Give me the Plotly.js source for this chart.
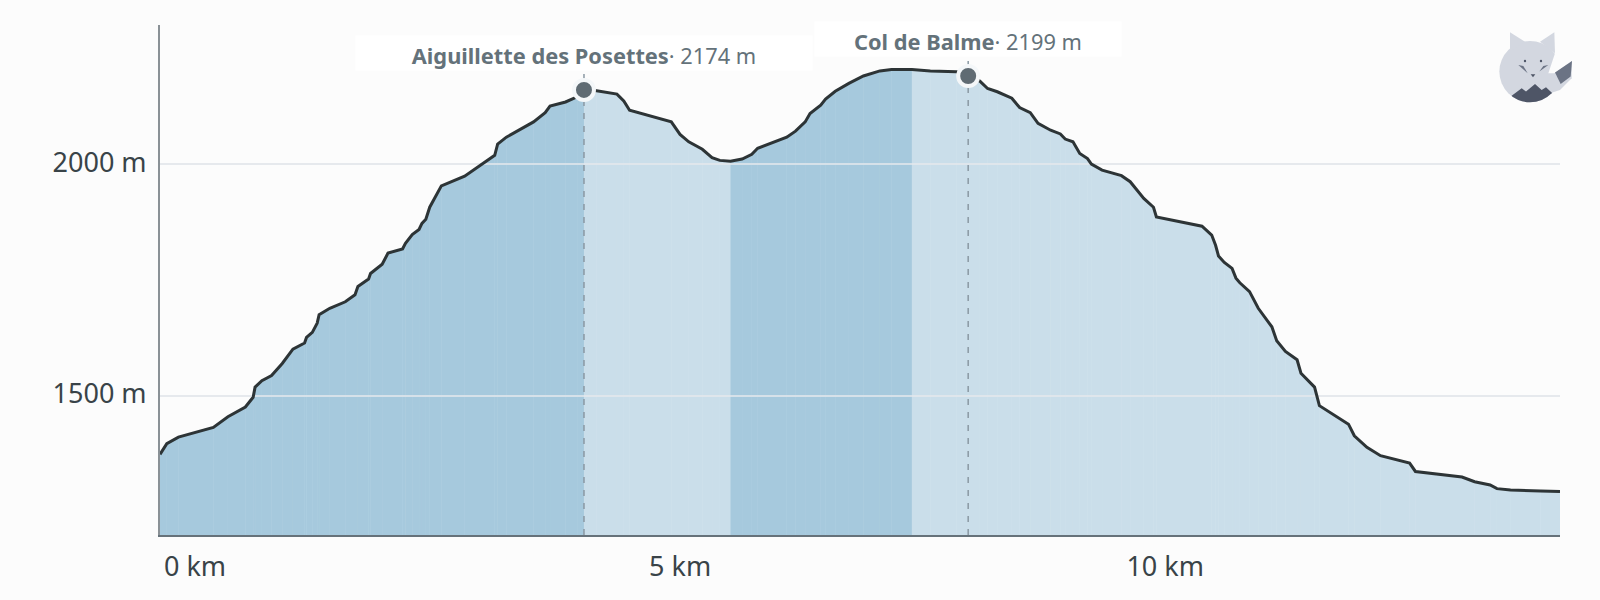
<!DOCTYPE html>
<html>
<head>
<meta charset="utf-8">
<script src="https://cdn.plot.ly/plotly-3.0.1.min.js"></script>
<style>
  html, body { margin: 0; padding: 0; background: #fcfcfc; }
</style>
</head>
<body>
<div id="profile" style="width:1600px;height:600px"></div>
<script>
// elevation profile
const distKm = [0, 0.07, 0.19, 0.55, 0.70, 0.88, 0.96, 0.98, 1.05, 1.15, 1.26, 1.37, 1.49, 1.51, 1.57, 1.62, 1.64, 1.75, 1.91, 2.01,
  2.04, 2.15, 2.17, 2.29, 2.35, 2.50, 2.53, 2.60, 2.67, 2.70, 2.74, 2.78, 2.90, 3.14, 3.45, 3.48, 3.57, 3.85, 3.97, 4.02,
  4.18, 4.30, 4.37, 4.50, 4.71, 4.78, 4.84, 5.27, 5.36, 5.45, 5.59, 5.69, 5.77, 5.88, 6.00, 6.10, 6.16, 6.46, 6.55, 6.65,
  6.70, 6.81, 6.86, 6.96, 7.10, 7.25, 7.42, 7.54, 7.75, 7.94, 8.21, 8.33, 8.45, 8.53, 8.63, 8.78, 8.86, 8.97, 9.05, 9.18,
  9.28, 9.33, 9.41, 9.48, 9.56, 9.60, 9.71, 9.91, 10.00, 10.07, 10.14, 10.24, 10.27, 10.74, 10.84, 10.88, 10.91, 10.97, 11.05, 11.09,
  11.13, 11.23, 11.32, 11.46, 11.51, 11.60, 11.72, 11.76, 11.90, 11.95, 12.25, 12.31, 12.44, 12.58, 12.88, 12.94, 13.42, 13.55, 13.71, 13.78,
  13.92, 14.23, 14.43];
const elevM = [1374, 1397, 1411, 1432, 1455, 1476, 1497, 1519, 1533, 1544, 1570, 1601, 1614, 1626, 1637, 1657, 1675, 1689, 1703, 1718,
  1736, 1752, 1764, 1784, 1808, 1817, 1829, 1848, 1859, 1872, 1881, 1907, 1953, 1974, 2019, 2043, 2058, 2091, 2111, 2125,
  2134, 2145, 2160, 2158, 2151, 2136, 2116, 2091, 2064, 2048, 2032, 2014, 2008, 2006, 2011, 2021, 2034, 2058, 2071, 2091,
  2109, 2127, 2140, 2157, 2174, 2190, 2201, 2204, 2204, 2201, 2199, 2190, 2179, 2163, 2156, 2142, 2122, 2111, 2088, 2073,
  2065, 2054, 2048, 2023, 2012, 2000, 1987, 1975, 1962, 1945, 1926, 1907, 1886, 1866, 1847, 1825, 1802, 1788, 1775, 1754,
  1744, 1725, 1689, 1649, 1619, 1596, 1578, 1549, 1519, 1479, 1439, 1414, 1389, 1371, 1355, 1337, 1325, 1315, 1308, 1300,
  1297, 1295, 1294];

// climbing / descending stretches
const bandEdges = [0, 4.37, 5.88, 7.75, 14.43];
const bandColors = ['#a6c9dd', '#cadeea', '#a6c9dd', '#cadeea'];
const bandUnderColors = ['#bcd7e6', '#d6e6ef', '#bcd7e6', '#d6e6ef'];

// named passes
const poiNames = ['Aiguillette des Posettes', 'Col de Balme'];
const poiKm = [4.37, 8.33];
const poiM = [2160, 2190];
const poiLabels = ['2174 m', '2199 m'];
const poiBoxWidths = [456, 306];

const xTicks = [0, 5, 10];
const xTickText = ['0 km', '5 km', '10 km'];
const yTicks = [1500, 2000];
const yTickText = ['1500 m', '2000 m'];

const fontFamily = '"Noto Sans", sans-serif';
const tickFont = { family: fontFamily, size: 27, color: '#394348' };

function bandColor(km) {
    for (let b = 0; b < bandColors.length; b++) {
        if (km < bandEdges[b + 1]) return bandColors[b];
    }
    return bandColors[bandColors.length - 1];
}

const traces = [];

// solid band underneath so the seams stay faint
bandColors.forEach((c, b) => {
    const keep = distKm.map((km, i) => i).filter((i) => distKm[i] >= bandEdges[b] && distKm[i] <= bandEdges[b + 1]);
    traces.push({
        x: keep.map((i) => distKm[i]),
        y: keep.map((i) => elevM[i]),
        type: 'scatter',
        mode: 'none',
        fill: 'tozeroy',
        fillcolor: bandUnderColors[b],
        hoverinfo: 'skip'
    });
});

// one fill per interval, the thin seams between them are visible in the original too
for (let i = 0; i < distKm.length - 1; i++) {
    traces.push({
        x: [distKm[i], distKm[i + 1]],
        y: [elevM[i], elevM[i + 1]],
        type: 'scatter',
        mode: 'none',
        fill: 'tozeroy',
        fillcolor: bandColor(distKm[i]),
        hoverinfo: 'skip'
    });
}

// gridlines run over the fill
yTicks.forEach((v) => {
    traces.push({
        x: [0, distKm[distKm.length - 1]],
        y: [v, v],
        type: 'scatter',
        mode: 'lines',
        line: { color: '#e6e9ed', width: 1.5 },
        hoverinfo: 'skip'
    });
});

// dashed drop lines, drawn before the markers so the dots sit on top
poiKm.forEach((km, i) => {
    traces.push({
        x: [km, km],
        y: [1200, poiM[i] + 36],
        type: 'scatter',
        mode: 'lines',
        line: { color: '#8a99a3', width: 1.5, dash: '6px,7px' },
        hoverinfo: 'skip'
    });
});

traces.push({
    x: distKm,
    y: elevM,
    type: 'scatter',
    mode: 'lines',
    line: { color: '#2d3436', width: 3 },
    hoverinfo: 'skip'
});

traces.push({
    x: poiKm,
    y: poiM,
    type: 'scatter',
    mode: 'markers',
    marker: { size: 20, color: '#5f6b73', line: { color: '#f4f7f9', width: 4 } },
    hoverinfo: 'skip'
});

const foxLogo = "<svg xmlns='http://www.w3.org/2000/svg' viewBox='0 0 420 330'>" +
    "<defs><clipPath id='c'><circle cx='270' cy='185' r='92'/></clipPath></defs>" +
    "<circle cx='270' cy='185' r='92' fill='#d3d7e0'/>" +
    "<polygon points='210,67 210,125 255,95' fill='#d3d7e0'/>" +
    "<polygon points='343,67 345,130 300,95' fill='#d3d7e0'/>" +
    "<polygon points='345,130 366,120 366,190 340,190 325,190' fill='#fcfcfc'/>" +
    "<polygon points='330,200 396,153 395,205 360,240 330,250' fill='#d3d7e0'/>" +
    "<polygon points='345,188 396,153 392,200 362,222' fill='#6b7384'/>" +
    "<circle cx='255' cy='153' r='3.5' fill='#4e5566'/><circle cx='303' cy='153' r='3.5' fill='#4e5566'/>" +
    "<polygon points='235,165 263,190 250,168' fill='#6b7384'/><polygon points='325,165 298,185 310,168' fill='#6b7384'/>" +
    "<polygon points='272,193 286,193 279,202' fill='#4e5566'/>" +
    "<polygon clip-path='url(#c)' points='205,265 245,235 258,245 285,222 305,240 318,232 350,262 350,300 205,300' fill='#4e5566'/>" +
    "</svg>";

const layout = {
    width: 1600,
    height: 600,
    margin: { l: 160, r: 40, t: 25, b: 64.5, pad: 0 },
    paper_bgcolor: '#fcfcfc',
    plot_bgcolor: '#fcfcfc',
    showlegend: false,
    font: { family: fontFamily, size: 24, color: '#394348' },
    xaxis: {
        range: [0, 14.43],
        tickmode: 'array',
        tickvals: xTicks,
        ticktext: xTickText,
        ticklabelshift: 35,
        ticklabelstandoff: 7,
        ticks: '',
        showgrid: false,
        zeroline: false,
        showline: true,
        linecolor: '#66727a',
        linewidth: 2,
        tickfont: tickFont
    },
    yaxis: {
        range: [1200, 2300],
        tickmode: 'array',
        tickvals: yTicks,
        ticktext: yTickText,
        ticks: '',
        ticklabelstandoff: 6,
        ticklabelshift: -2,
        showgrid: true,
        gridcolor: '#e6e9ed',
        gridwidth: 1.5,
        zeroline: false,
        showline: true,
        linecolor: '#8a9196',
        linewidth: 2,
        tickfont: tickFont
    },
    annotations: poiNames.map((name, i) => ({
        x: poiKm[i],
        y: poiM[i],
        xref: 'x',
        yref: 'y',
        xanchor: 'center',
        yanchor: 'bottom',
        yshift: 18.5,
        showarrow: false,
        text: '<b>' + name + '</b>· ' + poiLabels[i],
        align: 'center',
        valign: 'bottom',
        width: poiBoxWidths[i],
        height: 34,
        borderpad: 0,
        bgcolor: '#ffffff',
        font: { family: fontFamily, size: 21.8, color: '#64727a' }
    })),
    images: [{
        source: 'data:image/svg+xml;utf8,' + encodeURIComponent(foxLogo),
        xref: 'paper',
        yref: 'paper',
        x: (1440 - 160) / 1400,
        y: (535.5 - 10) / 510.5,
        sizex: 140 / 1400,
        sizey: 110 / 510.5,
        sizing: 'stretch',
        xanchor: 'left',
        yanchor: 'top',
        layer: 'above'
    }]
};

Plotly.newPlot('profile', traces, layout, { displayModeBar: false, staticPlot: true });
</script>
</body>
</html>
